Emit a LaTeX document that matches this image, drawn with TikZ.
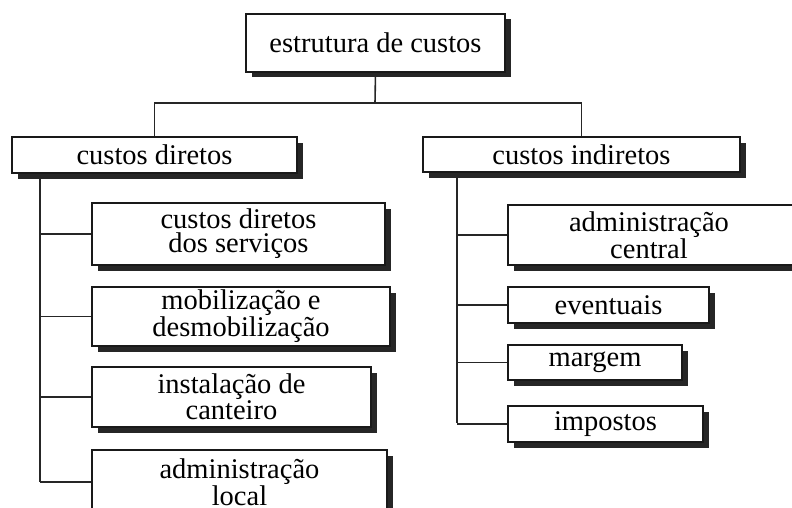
\documentclass[tikz,border=0pt]{standalone}
\usepackage{fontspec}
\setmainfont{Liberation Serif}
\usetikzlibrary{shadows}
\begin{document}
\begin{tikzpicture}[x=1pt,y=-1pt,
  box/.style={draw=black!90, line width=2.4pt, fill=white, inner sep=0pt, align=center,
    font=\fontsize{28.5}{24}\selectfont,
    drop shadow={shadow xshift=5.5pt, shadow yshift=-5.5pt, fill=black!85, opacity=1}},
  link/.style={draw=black!85, line width=1.6pt}]
\useasboundingbox (0,0) rectangle (792,508);
\node[box, minimum width=259pt, minimum height=58pt] (top) at (375.5,43) {estrutura de custos};
\node[box, minimum width=285pt, minimum height=36pt] (cd) at (154.5,155) {custos diretos};
\node[box, minimum width=317pt, minimum height=35pt] (ci) at (581.5,154.5) {custos indiretos};
\node[box, minimum width=293pt, minimum height=62pt] (d1) at (238.5,234) {custos diretos\\dos serviços};
\node[box, minimum width=298pt, minimum height=59pt] (d2) at (241,316.5) {mobilização e\\desmobilização};
\node[box, minimum width=279pt, minimum height=60pt] (d3) at (231.5,397) {instalação de\\canteiro};
\node[box, minimum width=295pt, minimum height=64pt] (d4) at (239.5,482) {administração\\local};
\node[box, minimum width=294pt, minimum height=60pt] (i1) at (655,235) {\hspace*{-12pt}administração\\\hspace*{-12pt}central};
\node[box, minimum width=201pt, minimum height=36pt] (i2) at (608.5,305) {eventuais};
\node[box, minimum width=174pt, minimum height=35pt] (i3) at (595,362.5) {margem};
\node[box, minimum width=195pt, minimum height=36pt] (i4) at (605.5,424) {impostos};
\coordinate (hub) at (375,103);
\coordinate (tl) at (40,482);
\coordinate (tr) at (457,423);
\draw[link] (top.south) -- (hub);
\draw[link] (cd.north) |- (hub) -| (ci.north);
\draw[link] (cd.south -| tl) -- (tl);
\draw[link] (d1.west) -- (d1.west -| tl);
\draw[link] (d2.west) -- (d2.west -| tl);
\draw[link] (d3.west) -- (d3.west -| tl);
\draw[link] (d4.west) -- (d4.west -| tl);
\draw[link] (ci.south -| tr) -- (tr);
\draw[link] (i1.west) -- (i1.west -| tr);
\draw[link] (i2.west) -- (i2.west -| tr);
\draw[link] (i3.west) -- (i3.west -| tr);
\draw[link] (i4.west) -- (i4.west -| tr);
\end{tikzpicture}
\end{document}
